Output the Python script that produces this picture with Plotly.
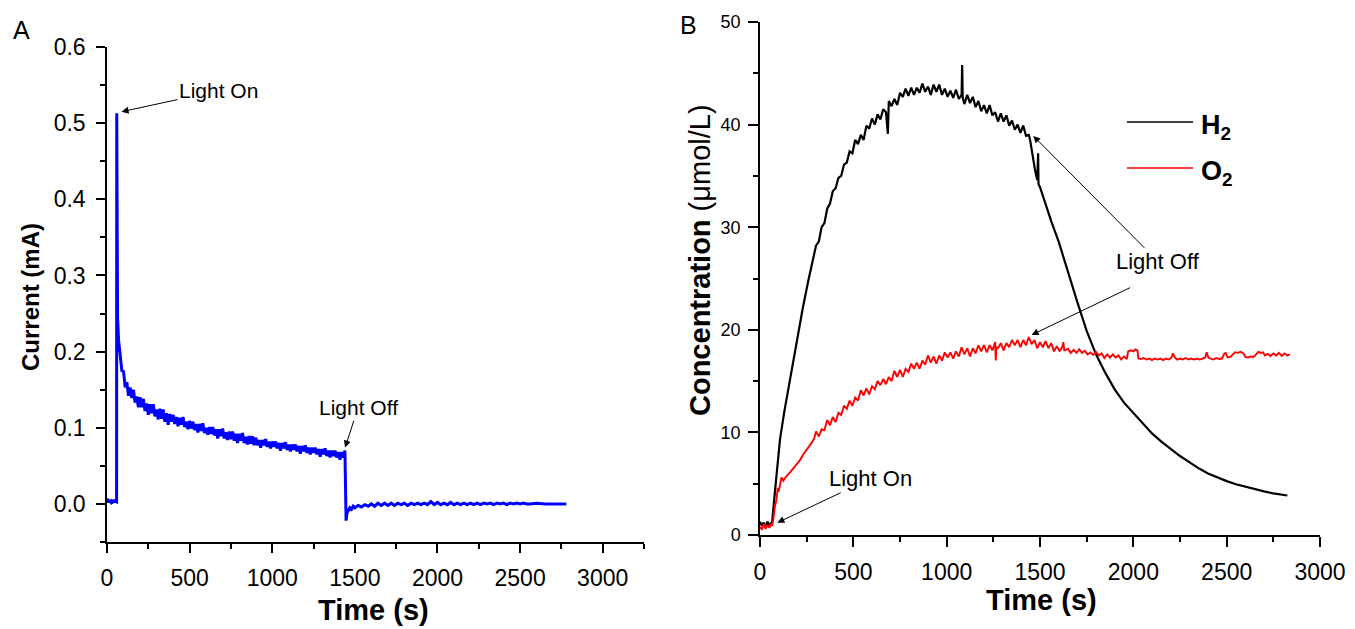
import plotly.graph_objects as go

W, H = 1355, 629

# ---------------- panel A: current (mA) vs time (s) ----------------
t_dark_a = [0, 5, 10, 15, 20, 25, 30, 35, 40, 45, 50, 55, 58]
i_dark_a = [0.007, 0.004, 0.002, 0.005, 0.003, 0.002, 0.004, 0.003, 0.005, 0.002, 0.004, 0.003, 0.003]

t_peak_a = [59, 61, 64, 70, 80, 90]
i_peak_a = [0.513, 0.300, 0.245, 0.215, 0.190, 0.175]

# illuminated part, sampled every 10 s from 100 to 1440 s
t_light_a = list(range(100, 1450, 10))
i_light_a = [
    0.174, 0.153, 0.160, 0.142, 0.153, 0.139, 0.150, 0.133, 0.141, 0.127,
    0.140, 0.127, 0.138, 0.122, 0.132, 0.117, 0.131, 0.119, 0.131, 0.115,
    0.124, 0.111, 0.125, 0.112, 0.124, 0.108, 0.119, 0.104, 0.118, 0.108,
    0.117, 0.105, 0.114, 0.102, 0.113, 0.104, 0.114, 0.101, 0.108, 0.098,
    0.109, 0.099, 0.108, 0.097, 0.105, 0.094, 0.105, 0.096, 0.106, 0.093,
    0.100, 0.091, 0.101, 0.092, 0.101, 0.090, 0.098, 0.086, 0.098, 0.089,
    0.099, 0.086, 0.094, 0.084, 0.095, 0.085, 0.095, 0.083, 0.092, 0.080,
    0.092, 0.083, 0.093, 0.080, 0.088, 0.078, 0.089, 0.079, 0.089, 0.077,
    0.087, 0.077, 0.084, 0.074, 0.084, 0.077, 0.085, 0.075, 0.082, 0.073,
    0.082, 0.075, 0.082, 0.073, 0.080, 0.070, 0.080, 0.073, 0.081, 0.071,
    0.078, 0.069, 0.078, 0.071, 0.078, 0.069, 0.076, 0.066, 0.076, 0.069,
    0.077, 0.067, 0.074, 0.065, 0.074, 0.067, 0.074, 0.065, 0.072, 0.062,
    0.072, 0.065, 0.073, 0.063, 0.070, 0.061, 0.070, 0.063, 0.070, 0.061,
    0.068, 0.058, 0.068, 0.061, 0.070,
]

t_off_a = [
    1447, 1452, 1460, 1470, 1480, 1490, 1500,
    1520, 1540, 1560, 1580, 1600, 1620, 1640, 1660, 1680, 1700,
    1720, 1740, 1760, 1780, 1800, 1820, 1840, 1860, 1880, 1900,
    1920, 1940, 1960, 1980, 2000, 2020, 2040, 2060, 2080, 2100,
    2120, 2140, 2160, 2180, 2200, 2220, 2240, 2260, 2280, 2300,
    2320, 2340, 2360, 2380, 2400, 2420, 2440, 2460, 2480, 2500,
    2520, 2540, 2560,
    2600, 2650, 2700, 2750, 2780,
]
i_off_a = [
    -0.022, -0.012, -0.009, -0.005, -0.007, -0.003, -0.005,
    -0.002, -0.004, -0.001, -0.003, 0.000, -0.003, 0.001, -0.002, 0.001, -0.002,
    0.001, -0.002, 0.001, -0.001, 0.001, -0.002, 0.001, -0.001, 0.001, -0.001,
    0.001, -0.001, 0.003, -0.001, 0.002, -0.001, 0.001, -0.001, 0.002, -0.001,
    0.001, -0.001, 0.001, -0.001, 0.001, -0.001, 0.001, -0.001, 0.001, 0.000,
    0.001, -0.001, 0.001, 0.000, 0.001, -0.001, 0.001, 0.000, 0.001, 0.000,
    0.001, 0.000, 0.000,
    0.001, 0.000, 0.000, 0.000, 0.000,
]

# ---------------- panel B: concentration (umol/L) vs time (s) ----------------
t_h2 = [
    0, 10, 20, 30, 40, 50, 60, 63, 80, 107, 130, 150, 178, 200, 230, 259, 280,
    300, 315, 330, 345, 360, 375, 390, 405, 420, 435, 450, 465, 480,
    495, 510, 525, 540, 555, 570, 585, 600, 615, 630, 645, 660, 675,
    685,
    690, 705, 720, 735, 750, 765, 780, 795, 810, 825,
    840, 855, 870, 885, 900, 915, 930, 945, 960, 975,
    990, 1005, 1020, 1035, 1050, 1065, 1080,
    1083, 1086,
    1095, 1110, 1125, 1140, 1155, 1170, 1185, 1200, 1215, 1230,
    1245, 1260, 1275, 1290, 1305, 1320, 1335, 1350, 1365, 1380,
    1395, 1410, 1425, 1440,
    1448, 1473, 1485, 1490, 1492, 1500, 1530, 1560, 1600,
    1650, 1700, 1750, 1800, 1850, 1900, 1950, 2000, 2050, 2100,
    2150, 2200, 2250, 2300, 2350, 2400, 2450, 2500, 2550, 2600,
    2650, 2700, 2750, 2800, 2825,
]
h2 = [
    1.3, 0.9, 1.2, 0.8, 1.3, 0.9, 1.2, 0.9, 4.2, 9.3, 12.0, 14.0, 17.0, 19.3, 22.2, 24.8, 26.6,
    28.2, 28.6, 30.0, 30.4, 31.8, 32.3, 33.5, 33.8, 34.8, 35.0, 36.1, 36.3, 37.4,
    37.2, 38.5, 38.1, 39.0, 38.5, 39.9, 39.6, 40.6, 40.0, 41.0, 40.5, 41.5, 41.2,
    39.1,
    42.3, 41.8, 42.5, 41.9, 43.1, 42.7, 43.5, 42.8, 43.6, 42.9,
    43.6, 43.1, 44.0, 43.2, 43.7, 42.9, 43.9, 43.2, 43.9, 42.9,
    43.5, 42.7, 43.3, 42.6, 43.4, 42.5, 42.9,
    45.8, 42.6,
    42.0, 42.9, 42.1, 42.7, 41.7, 42.3, 41.3, 41.9, 41.1, 41.9,
    40.9, 41.2, 40.3, 41.1, 40.3, 40.9, 39.9, 40.4, 39.5, 40.0,
    39.2, 39.9, 38.9, 39.0,
    38.4, 35.6, 34.6, 37.2, 34.2, 33.9, 32.2, 30.6, 28.6,
    25.6, 22.7, 19.9, 17.6, 15.8, 14.2, 12.9, 11.9, 10.8, 9.9,
    9.1, 8.4, 7.7, 7.1, 6.5, 6.0, 5.6, 5.25, 4.95, 4.7,
    4.45, 4.25, 4.05, 3.92, 3.85,
]

t_o2 = [
    0, 10, 20, 30, 40, 50, 60, 65, 72, 80, 88, 95, 100, 107, 115, 125, 140, 161,
    180, 200, 214, 230, 250, 265, 277, 290,
    300, 315, 330, 345, 360, 375, 390, 405, 420, 435,
    450, 465, 480, 495, 510, 525, 540, 555, 570, 585,
    600, 615, 630, 645, 660, 675, 690, 705, 720, 735,
    750, 765, 780, 795, 810, 825, 840, 855, 870, 885,
    900, 915, 930, 945, 960, 975, 990, 1005, 1020, 1035,
    1050, 1065, 1080, 1095, 1110, 1125, 1140, 1155, 1170, 1185,
    1200, 1215, 1230, 1245, 1260, 1263, 1266, 1275, 1290, 1305, 1320, 1335,
    1350, 1365, 1380, 1395, 1410, 1425, 1440, 1455, 1470, 1485,
    1500, 1515, 1530, 1545, 1560, 1575, 1590, 1605,
    1620, 1625, 1630, 1635, 1650, 1665, 1680, 1695, 1710, 1725,
    1740, 1755, 1770, 1785, 1800, 1815, 1830, 1845, 1860, 1875,
    1890, 1905, 1920, 1935, 1950, 1965,
    1972, 1985, 2000, 2010, 2022, 2027, 2040, 2055, 2070, 2085,
    2100, 2115, 2130, 2145, 2160, 2175, 2190, 2205, 2212, 2222,
    2235, 2250, 2265, 2280, 2295, 2310, 2325, 2340, 2355, 2370,
    2385, 2393, 2402, 2415, 2430, 2445, 2460, 2475, 2488, 2495,
    2505, 2520, 2535, 2545, 2560, 2575, 2590, 2600, 2615, 2630,
    2645, 2660, 2670, 2685, 2695, 2705, 2720, 2735, 2750, 2765,
    2780, 2795, 2810, 2825, 2839,
]
o2 = [
    0.8, 0.5, 1.1, 0.6, 1.0, 0.7, 1.1, 0.9, 1.6, 2.8, 3.4, 4.6, 4.2, 5.0, 5.6, 5.3, 5.7, 6.1,
    6.5, 7.0, 7.3, 7.8, 8.3, 8.6, 9.0, 9.4,
    10.1, 9.6, 10.3, 10.2, 11.2, 10.7, 11.5, 11.0, 11.9, 11.7,
    12.6, 12.3, 13.1, 12.6, 13.4, 13.1, 14.1, 13.6, 14.3, 13.7,
    14.5, 14.2, 15.0, 14.6, 15.2, 14.7, 15.4, 15.0, 16.0, 15.4,
    16.1, 15.4, 16.2, 15.9, 16.7, 16.2, 16.8, 16.2, 17.0, 16.6,
    17.5, 16.8, 17.4, 16.7, 17.5, 17.0, 17.8, 17.3, 17.8, 17.2,
    17.9, 17.4, 18.3, 17.6, 18.2, 17.4, 18.2, 17.7, 18.5, 17.9,
    18.5, 17.8, 18.5, 18.0, 18.8, 17.0, 18.3, 18.2, 18.7, 18.0, 18.7, 18.3,
    19.0, 18.5, 19.0, 18.3, 19.0, 18.5, 19.3, 18.6, 19.0, 18.2,
    18.8, 18.3, 18.9, 18.2, 18.7, 17.9, 18.4, 17.9,
    18.35, 18.8, 18.0, 18.0, 18.15, 17.75, 18.05, 17.75, 18.1, 17.75,
    17.95, 17.6, 17.8, 17.55, 17.85, 17.5, 17.7, 17.25, 17.6, 17.3,
    17.6, 17.3, 17.5, 17.1, 17.4, 17.15,
    17.9, 18.0, 17.9, 18.1, 18.0, 17.2, 17.15, 17.25, 17.1, 17.2,
    17.05, 17.2, 17.1, 17.2, 17.05, 17.2, 17.1, 17.3, 17.7, 17.3,
    17.1, 17.2, 17.1, 17.25, 17.1, 17.2, 17.1, 17.2, 17.1, 17.2,
    17.3, 17.8, 17.3, 17.2, 17.1, 17.25, 17.15, 17.2, 17.7, 17.75,
    17.3, 17.35, 17.6, 17.8, 17.75, 17.85, 17.7, 17.35, 17.3, 17.4,
    17.35, 17.7, 17.85, 17.75, 17.8, 17.5, 17.65, 17.45, 17.7, 17.5,
    17.75, 17.45, 17.7, 17.5, 17.6,
]

FONT = "Liberation Sans, Arial, sans-serif"


def px_x(p):
    return p / W


def px_y(p):
    return 1 - p / H


def axis_style(**kw):
    base = dict(
        showline=True, linecolor="black", linewidth=1.5, mirror=False,
        ticks="outside", ticklen=9, tickwidth=1.5, tickcolor="black",
        showgrid=False, zeroline=False, automargin=False,
        tickfont=dict(family=FONT, size=23, color="black"),
    )
    base.update(kw)
    return base


def build_panel_a(fig):
    t = t_dark_a + t_peak_a + t_light_a + t_off_a
    i = i_dark_a + i_peak_a + i_light_a + i_off_a
    fig.add_trace(go.Scatter(x=t, y=i, mode="lines", xaxis="x", yaxis="y",
                             line=dict(color="#0000ff", width=3), showlegend=False))
    fig.update_layout(
        xaxis=axis_style(domain=[px_x(107), px_x(644)], range=[0, 3250], dtick=500,
                         anchor="y", ticklabelstandoff=6,
                         minor=dict(dtick=250, ticks="outside", ticklen=5, tickwidth=1.5, tickcolor="black")),
        yaxis=axis_style(domain=[px_y(542), px_y(47)], range=[-0.05, 0.6], dtick=0.1,
                         tickformat=".1f", anchor="x", ticklabelstandoff=6,
                         minor=dict(dtick=0.05, ticks="outside", ticklen=5, tickwidth=1.5, tickcolor="black")),
    )


def build_panel_b(fig):
    fig.add_trace(go.Scatter(x=t_h2, y=h2, mode="lines", xaxis="x2", yaxis="y2",
                             line=dict(color="black", width=2.2), showlegend=False))
    fig.add_trace(go.Scatter(x=t_o2, y=o2, mode="lines", xaxis="x2", yaxis="y2",
                             line=dict(color="#ff0000", width=1.9), showlegend=False))
    fig.update_layout(
        xaxis2=axis_style(domain=[px_x(760), px_x(1320)], range=[0, 3000], dtick=500,
                          anchor="y2", ticklabelstandoff=6, ticklen=10,
                          minor=dict(dtick=250, ticks="outside", ticklen=5, tickwidth=1.5, tickcolor="black")),
        yaxis2=axis_style(domain=[px_y(535), px_y(22)], range=[0, 50], dtick=10,
                          anchor="x2", ticklabelstandoff=4, ticklen=10,
                          tickfont=dict(family=FONT, size=18, color="black"),
                          minor=dict(dtick=5, ticks="outside", ticklen=5, tickwidth=1.5, tickcolor="black")),
    )
    # legend drawn by hand so the line samples are as long as in the figure
    for y_px, color in [(122, "black"), (168, "#ff0000")]:
        fig.add_shape(type="line", xref="paper", yref="paper",
                      x0=px_x(1127), x1=px_x(1193), y0=px_y(y_px), y1=px_y(y_px),
                      line=dict(color=color, width=1.5))


def add_text(fig, text, x, y, size, angle=0, xanchor="center"):
    fig.add_annotation(text=text, x=px_x(x), y=px_y(y), xref="paper", yref="paper",
                       showarrow=False, textangle=angle, xanchor=xanchor, yanchor="middle",
                       font=dict(family=FONT, size=size, color="black"))


def add_arrow(fig, text, x, y, ax, ay, xref, yref, size=21):
    fig.add_annotation(text=text, x=x, y=y, xref=xref, yref=yref, ax=ax, ay=ay,
                       showarrow=True, arrowhead=2, arrowsize=1.4, arrowwidth=1,
                       arrowcolor="black", font=dict(family=FONT, size=size, color="black"))


def main():
    fig = go.Figure()
    build_panel_a(fig)
    build_panel_b(fig)

    # panel letters and axis titles
    add_text(fig, "A", 22, 30, 25)
    add_text(fig, "B", 688, 25, 25)
    add_text(fig, "<b>Current (mA)</b>", 30, 297, 24, angle=-90)
    add_text(fig, "<b>Time (s)</b>", 373, 610, 29)
    add_text(fig, "<b>Time (s)</b>", 1041, 600, 29)
    add_text(fig, "<b>Concentration</b> (μmol/L)", 700, 260, 29, angle=-90)
    add_text(fig, "<b>H<sub>2</sub></b>", 1199, 127, 27, xanchor="left")
    add_text(fig, "<b>O<sub>2</sub></b>", 1199, 173, 27, xanchor="left")

    # light on / off markers
    add_arrow(fig, "Light On", 88, 0.515, 97, -21, "x", "y")
    add_arrow(fig, "Light Off", 1441, 0.074, 13, -40, "x", "y")
    add_arrow(fig, "Light On", 93, 1.2, 93, -44, "x2", "y2", size=22)
    add_arrow(fig, "Light Off", 1464, 38.9, 125, 126, "x2", "y2", size=22)
    add_arrow(fig, "", 1455, 19.5, 100, -48, "x2", "y2")

    fig.update_layout(
        width=W, height=H,
        margin=dict(l=0, r=0, t=0, b=0),
        paper_bgcolor="white", plot_bgcolor="white",
        font=dict(family=FONT, color="black"),
        showlegend=False,
    )
    # the page body has a default 8px margin; drop it so the figure sits at 0,0
    fig.write_html("out.html", config={"displayModeBar": False},
                   post_script="document.body.style.margin = '0';")


if __name__ == "__main__":
    main()
